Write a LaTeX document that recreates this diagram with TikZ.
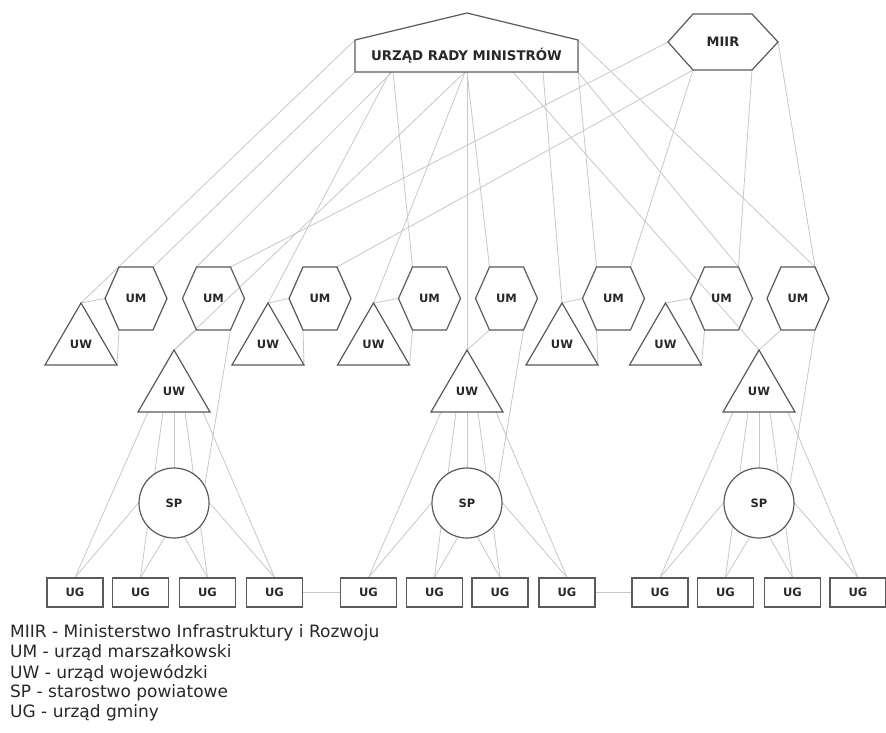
\documentclass[tikz,border=0pt]{standalone}
\usepackage{fontspec}
\setmainfont{DejaVu Sans}
\usetikzlibrary{calc}
\pgfdeclarelayer{bg}
\pgfsetlayers{bg,main}
\definecolor{outc}{RGB}{90,90,90}
\definecolor{conc}{RGB}{200,200,200}
\definecolor{txtc}{RGB}{40,40,40}
\tikzset{
  outl/.style={draw=outc, line width=1.2pt, line join=miter},
  conn/.style={draw=conc, line width=0.8pt},
  lbl/.style={font=\fontsize{11.5}{11.5}\selectfont\bfseries, text=txtc, inner sep=0pt},
  spc/.style={circle, draw=outc, line width=1.2pt, fill=white, minimum size=70pt, inner sep=0pt, font=\fontsize{11.5}{11.5}\selectfont\bfseries, text=txtc},
  ugb/.style={rectangle, draw=outc, line width=1.2pt, fill=white, minimum width=56pt, minimum height=29pt, inner sep=0pt, font=\fontsize{11.5}{11.5}\selectfont\bfseries, text=txtc},
  leg/.style={anchor=west, inner sep=0pt, font=\fontsize{17}{20}\selectfont, text=txtc},
}
\newcommand\UMhex[2]{%
  \node[lbl] (#1) at (#2,298.5) {UM};
  \path (#1) +(-31,0) coordinate (#1-l) +(-17,-31.5) coordinate (#1-tl)
        +(17,-31.5) coordinate (#1-tr) +(31,0) coordinate (#1-r)
        +(17,31.5) coordinate (#1-br) +(-17,31.5) coordinate (#1-bl);
  \draw[outl] (#1-l) -- (#1-tl) -- (#1-tr) -- (#1-r) -- (#1-br) -- (#1-bl) -- cycle;
}
\newcommand\UWtri[3]{%
  \path (#2,#3) coordinate (#1-a) +(-36,62) coordinate (#1-bl) +(36,62) coordinate (#1-br);
  \node[lbl] (#1) at (#2,#3+41) {UW};
  \draw[outl] (#1-a) -- (#1-br) -- (#1-bl) -- cycle;
}
\newcommand\Grp[6]{%
  \UWtri{lw#1}{#2}{350}
  \node[spc] (sp#1) at (#2,503) {SP};
  \node[ugb] (ug#1a) at (#3,592.5) {UG};
  \node[ugb] (ug#1b) at (#4,592.5) {UG};
  \node[ugb] (ug#1c) at (#5,592.5) {UG};
  \node[ugb] (ug#1d) at (#6,592.5) {UG};
  \begin{pgfonlayer}{bg}
    \draw[conn] ($(lw#1-a)+(-26,62)$) -- (ug#1a.north);
    \draw[conn] ($(lw#1-a)+(-11,62)$) -- (ug#1b.north);
    \draw[conn] ($(lw#1-a)+(0,62)$) -- (sp#1.north);
    \draw[conn] ($(lw#1-a)+(11,62)$) -- (ug#1c.north);
    \draw[conn] ($(lw#1-a)+(29,62)$) -- (ug#1d.north);
    \draw[conn] (sp#1.west) -- (ug#1a.north);
    \draw[conn] (sp#1.255) -- (ug#1b.north);
    \draw[conn] (sp#1.287) -- (ug#1c.north);
    \draw[conn] (sp#1.east) -- (ug#1d.north);
  \end{pgfonlayer}
}
\begin{document}
\begin{tikzpicture}[x=1pt,y=-1pt]
\useasboundingbox (0,0) rectangle (886,733);
\begin{pgfonlayer}{bg}
  \fill[white] (0,0) rectangle (886,733);
\end{pgfonlayer}

% top: URM
\coordinate (urm-nw) at (355,40);
\coordinate (urm-sw) at (355,72);
\coordinate (urm-ne) at (578,40);
\coordinate (urm-se) at (578,72);
\coordinate (urm-top) at (467,13);
\draw[outl, fill=white] (urm-sw) -- (urm-nw) -- (urm-top) -- (urm-ne) -- (urm-se) -- cycle;
\node[lbl, font=\fontsize{13.3}{13.3}\selectfont\bfseries] (urm) at (466.5,56) {URZĄD RADY MINISTRÓW};

% MIIR
\node[lbl, font=\fontsize{13}{13}\selectfont\bfseries] (miir) at (723,42) {MIIR};
\path (miir) +(-55,0) coordinate (miir-l) +(-30,-28) coordinate (miir-tl)
      +(29,-28) coordinate (miir-tr) +(55,0) coordinate (miir-r)
      +(29,28) coordinate (miir-br) +(-30,28) coordinate (miir-bl);
\draw[outl] (miir-l) -- (miir-tl) -- (miir-tr) -- (miir-r) -- (miir-br) -- (miir-bl) -- cycle;

% UM hexagons
\UMhex{um1}{136}
\UMhex{um2}{213.5}
\UMhex{um3}{320}
\UMhex{um4}{429.5}
\UMhex{um5}{506.5}
\UMhex{um6}{613.5}
\UMhex{um7}{721.5}
\UMhex{um8}{798}

% UW top row
\UWtri{uw1}{81}{303}
\UWtri{uw2}{268}{303}
\UWtri{uw3}{373.5}{303}
\UWtri{uw4}{562}{303}
\UWtri{uw5}{665.5}{303}

% lower groups
\Grp{A}{174}{75}{140.5}{207.5}{274.5}
\Grp{B}{467}{368.5}{434.5}{500}{567}
\Grp{C}{759}{660}{725.5}{792.5}{858}

\begin{pgfonlayer}{bg}
  % URM connectors
  \draw[conn] (urm-nw) -- (uw1-a);
  \draw[conn] (urm-sw) -- (um1-tr);
  \draw[conn] ($(urm-sw)+(37,0)$) -- (um2-tl);
  \draw[conn] ($(urm-sw)+(35,0)$) -- (uw2-a);
  \draw[conn] ($(urm-sw)+(38,0)$) -- (um4-tl);
  \draw[conn] ($(urm-sw)+(110,0)$) -- (lwA-a);
  \draw[conn] ($(urm-sw)+(110,0)$) -- (uw3-a);
  \draw[conn] ($(urm-sw)+(112,0)$) -- (lwB-a);
  \draw[conn] ($(urm-sw)+(112,0)$) -- (um5-tl);
  \draw[conn] ($(urm-sw)+(158,0)$) -- (lwC-a);
  \draw[conn] ($(urm-sw)+(188,0)$) -- (uw4-a);
  \draw[conn] (urm-se) -- (um6-tl);
  \draw[conn] (urm-se) -- (um7-tr);
  \draw[conn] (urm-ne) -- (um8-tr);
  % MIIR connectors
  \draw[conn] (miir-l) -- (um2-tr);
  \draw[conn] (miir-bl) -- (um3-tr);
  \draw[conn] (miir-bl) -- (um6-tr);
  \draw[conn] (miir-br) -- (um7-tr);
  \draw[conn] (miir-r) -- (um8-tr);
  % UW - UM pairs
  \draw[conn] (uw1-a) -- (um1-l);  \draw[conn] (um1-bl) -- (uw1-br);
  \draw[conn] (uw2-a) -- (um3-l);  \draw[conn] (um3-bl) -- (uw2-br);
  \draw[conn] (uw3-a) -- (um4-l);  \draw[conn] (um4-bl) -- (uw3-br);
  \draw[conn] (uw4-a) -- (um6-l);  \draw[conn] (um6-bl) -- (uw4-br);
  \draw[conn] (uw5-a) -- (um7-l);  \draw[conn] (um7-bl) -- (uw5-br);
  \draw[conn] (lwA-a) -- (um2-bl); \draw[conn] (um2-br) -- (spA.30);
  \draw[conn] (lwB-a) -- (um5-bl); \draw[conn] (um5-br) -- (spB.30);
  \draw[conn] (lwC-a) -- (um8-bl); \draw[conn] (um8-br) -- (spC.30);
  % UG links
  \draw[conn] (ugAd.east) -- (ugBa.west);
  \draw[conn] (ugBd.east) -- (ugCa.west);
\end{pgfonlayer}

% legend
\node[leg] (leg1) at (10,633) {MIIR - Ministerstwo Infrastruktury i Rozwoju};
\node[leg] (leg2) at (10,653) {UM - urząd marszałkowski};
\node[leg] (leg3) at (10,673) {UW - urząd wojewódzki};
\node[leg] (leg4) at (10,693) {SP - starostwo powiatowe};
\node[leg] (leg5) at (10,713) {UG - urząd gminy};
\end{tikzpicture}
\end{document}
